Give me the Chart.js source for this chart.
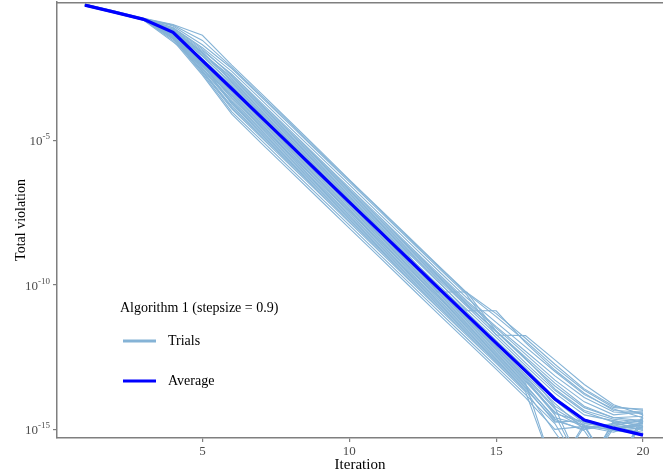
<!DOCTYPE html>
<html>
<head>
<meta charset="utf-8">
<script src="https://cdn.jsdelivr.net/npm/chart.js@4"></script>
<style>
  html, body { margin: 0; padding: 0; background: #fff; }
  #wrap { width: 663px; height: 474px; }
</style>
</head>
<body>
<div id="wrap"><canvas id="chartViolation"></canvas></div>
<script>
// iterations on the x axis
const iterations = [1, 2, 3, 4, 5, 6, 7, 8, 9, 10, 11, 12, 13, 14, 15, 16, 17, 18, 19, 20];

// y values stored as log10(total violation)
const averageLog = [-0.33, -0.57, -0.82, -1.27, -2.25, -3.22, -4.20, -5.18, -6.16, -7.14, -8.12, -9.10, -10.08, -11.05, -12.02, -12.98, -13.95, -14.68, -14.96, -15.20];

const trialsLog = [
  [-0.30, -0.53, -0.78, -1.00, -1.37, -2.40, -3.38, -4.37, -5.36, -6.36, -7.34, -8.32, -9.30, -10.27, -11.00, -11.85, -12.75, -13.60, -14.20, -14.35],
  [-0.31, -0.55, -0.80, -1.05, -1.70, -2.52, -3.50, -4.48, -5.46, -6.44, -7.42, -8.40, -9.38, -10.35, -11.74, -11.76, -12.60, -13.45, -14.15, -14.50],
  [-0.34, -0.58, -0.80, -1.10, -1.80, -2.62, -3.60, -4.58, -5.56, -6.54, -7.52, -8.50, -9.48, -10.45, -11.30, -12.15, -13.00, -13.80, -14.30, -14.60],
  [-0.32, -0.56, -0.83, -1.15, -1.90, -2.72, -3.70, -4.68, -5.66, -6.64, -7.62, -8.60, -9.58, -10.55, -11.45, -12.30, -13.15, -13.90, -14.40, -14.45],
  [-0.33, -0.57, -0.81, -1.20, -2.00, -2.82, -3.80, -4.78, -5.76, -6.74, -7.72, -8.70, -9.68, -10.65, -11.62, -12.58, -13.50, -14.25, -14.60, -14.70],
  [-0.35, -0.59, -0.84, -1.22, -2.05, -2.92, -3.90, -4.88, -5.86, -6.84, -7.82, -8.80, -9.78, -10.75, -11.72, -12.70, -13.65, -14.40, -14.75, -14.80],
  [-0.30, -0.55, -0.79, -1.25, -2.10, -3.02, -4.00, -4.98, -5.96, -6.94, -7.92, -8.90, -9.88, -10.85, -11.82, -12.80, -13.75, -14.50, -14.70, -14.90],
  [-0.36, -0.60, -0.85, -1.28, -2.18, -3.12, -4.10, -5.08, -6.06, -7.04, -8.02, -9.00, -9.98, -10.95, -11.92, -12.88, -13.90, -14.65, -14.95, -14.85],
  [-0.32, -0.56, -0.82, -1.30, -2.25, -3.22, -4.20, -5.18, -6.16, -7.14, -8.12, -9.10, -10.08, -11.05, -12.02, -13.00, -14.00, -14.80, -14.90, -15.00],
  [-0.34, -0.58, -0.83, -1.32, -2.32, -3.32, -4.30, -5.28, -6.26, -7.24, -8.22, -9.20, -10.18, -11.15, -12.12, -13.10, -14.10, -15.00, -14.80, -14.95],
  [-0.31, -0.55, -0.80, -1.35, -2.38, -3.42, -4.40, -5.38, -6.36, -7.34, -8.32, -9.30, -10.28, -11.25, -12.22, -13.20, -14.30, -14.90, -15.10, -14.75],
  [-0.33, -0.58, -0.84, -1.38, -2.45, -3.52, -4.50, -5.48, -6.46, -7.44, -8.42, -9.40, -10.38, -11.35, -12.32, -13.30, -14.50, -16.50, -14.70, -14.90],
  [-0.35, -0.59, -0.83, -1.40, -2.50, -3.62, -4.60, -5.58, -6.56, -7.54, -8.52, -9.50, -10.48, -11.45, -12.42, -13.40, -16.50, -14.80, -14.95, -15.10],
  [-0.30, -0.54, -0.81, -1.42, -2.55, -3.72, -4.70, -5.68, -6.66, -7.64, -8.62, -9.60, -10.58, -11.55, -12.52, -13.50, -14.60, -14.85, -16.50, -14.60],
  [-0.34, -0.57, -0.82, -1.45, -2.60, -3.82, -4.80, -5.78, -6.76, -7.74, -8.72, -9.70, -10.68, -11.65, -12.62, -13.60, -14.70, -15.00, -14.85, -14.70],
  [-0.32, -0.57, -0.84, -1.48, -2.65, -3.92, -4.90, -5.88, -6.86, -7.84, -8.82, -9.80, -10.78, -11.75, -12.72, -13.70, -16.50, -14.90, -15.00, -14.85],
  [-0.33, -0.56, -0.81, -1.50, -2.70, -4.02, -5.00, -5.98, -6.96, -7.94, -8.92, -9.90, -10.88, -11.85, -12.82, -13.80, -14.80, -16.50, -14.75, -15.05],
  [-0.31, -0.56, -0.83, -1.55, -2.75, -4.10, -5.10, -6.08, -7.06, -8.04, -9.02, -10.00, -10.98, -11.95, -12.92, -13.90, -15.00, -14.90, -16.50, -14.50],
  [-0.36, -0.60, -0.85, -1.60, -2.40, -3.55, -4.55, -5.52, -6.50, -7.48, -8.46, -9.44, -10.42, -11.40, -12.37, -13.35, -14.40, -14.95, -14.80, -14.65],
  [-0.30, -0.53, -0.79, -1.26, -2.35, -3.75, -4.75, -5.73, -6.71, -7.69, -8.67, -9.65, -10.63, -11.60, -12.57, -13.55, -14.75, -14.70, -15.05, -14.95],
  [-0.33, -0.57, -0.82, -1.23, -2.08, -3.07, -4.05, -5.03, -6.01, -6.99, -7.97, -8.95, -10.25, -10.25, -11.60, -12.55, -13.60, -14.35, -14.65, -14.75],
  [-0.34, -0.58, -0.83, -1.18, -1.95, -2.97, -3.95, -4.93, -5.91, -6.89, -7.87, -8.85, -9.83, -10.90, -10.90, -12.00, -12.95, -13.75, -14.35, -14.40],
  [-0.32, -0.55, -0.80, -1.12, -1.85, -2.77, -3.75, -4.73, -5.71, -6.69, -7.67, -8.65, -9.63, -10.60, -11.50, -12.40, -13.30, -14.05, -14.50, -14.40],
  [-0.35, -0.59, -0.84, -1.29, -2.20, -3.17, -4.15, -5.13, -6.11, -7.09, -8.07, -9.05, -10.03, -11.00, -11.97, -12.93, -14.20, -14.85, -15.05, -15.15],
  [-0.31, -0.56, -0.81, -1.36, -2.42, -3.47, -4.45, -5.43, -6.41, -7.39, -8.37, -9.35, -10.33, -11.30, -12.27, -13.25, -14.45, -14.75, -14.90, -15.20],
  [-0.33, -0.57, -0.82, -1.46, -2.62, -3.87, -4.85, -5.83, -6.81, -7.79, -8.77, -9.75, -10.73, -11.70, -12.67, -13.65, -15.10, -16.50, -14.95, -14.80],
  [-0.34, -0.58, -0.83, -1.41, -2.52, -3.67, -4.65, -5.63, -6.61, -7.59, -8.57, -9.55, -10.53, -11.50, -12.47, -13.45, -14.65, -15.05, -16.50, -14.70],
  [-0.32, -0.56, -0.81, -1.17, -1.98, -2.87, -3.85, -4.83, -5.81, -6.79, -7.77, -8.75, -9.73, -10.70, -11.60, -12.50, -13.40, -14.20, -14.60, -14.55],
  [-0.33, -0.57, -0.83, -1.33, -2.35, -3.37, -4.35, -5.33, -6.31, -7.29, -8.27, -9.25, -10.23, -11.20, -12.17, -13.15, -14.25, -16.50, -14.85, -15.00],
  [-0.30, -0.54, -0.79, -1.02, -1.55, -2.47, -3.45, -4.43, -5.41, -6.39, -7.37, -8.35, -9.33, -10.30, -11.10, -11.95, -12.85, -13.65, -14.25, -14.30]
];

// tick positions and labels (y labels are 10 with an exponent)
const xTicks = [5, 10, 15, 20];
const yTickValues = [1e-5, 1e-10, 1e-15];
const yTickExponents = ["-5", "-10", "-15"];

const legendTitle = "Algorithm 1 (stepsize = 0.9)";
const seriesNames = ["Trials", "Average"];

const trialColor = "#85b3d6";
const avgColor = "#0000ff";
const axisGrey = "#7f7f7f";
const tickGrey = "#4d4d4d";
const serif = "'Liberation Serif', 'Times New Roman', serif";

function toPoints(logs) {
  return logs.map((v, i) => ({ x: iterations[i], y: Math.pow(10, v) }));
}

const datasets = [
  {
    label: seriesNames[1],
    data: toPoints(averageLog),
    borderColor: avgColor,
    borderWidth: 3.2,
    pointRadius: 0,
    order: 0,
  },
];
trialsLog.forEach((t) => {
  datasets.push({
    label: seriesNames[0],
    data: toPoints(t),
    borderColor: trialColor,
    borderWidth: 1.1,
    pointRadius: 0,
    order: 1,
  });
});

// top frame line, y tick labels with superscript, legend inside the panel
const panelExtras = {
  id: "panelExtras",
  afterDraw(chart) {
    const ctx = chart.ctx;
    const a = chart.chartArea;
    const y = chart.scales.y;
    ctx.save();
    ctx.strokeStyle = axisGrey;
    ctx.lineWidth = 1.5;
    ctx.beginPath();
    ctx.moveTo(a.left, a.top + 0.75);
    ctx.lineTo(a.right, a.top + 0.75);
    ctx.stroke();

    // y tick labels
    ctx.fillStyle = tickGrey;
    ctx.textBaseline = "alphabetic";
    ctx.textAlign = "left";
    yTickValues.forEach((v, i) => {
      const py = y.getPixelForValue(v);
      ctx.font = "13px " + serif;
      const wb = ctx.measureText("10").width;
      ctx.font = "9px " + serif;
      const we = ctx.measureText(yTickExponents[i]).width;
      const x0 = a.left - 7 - wb - we;
      ctx.font = "13px " + serif;
      ctx.fillText("10", x0, py + 5);
      ctx.font = "9px " + serif;
      ctx.fillText(yTickExponents[i], x0 + wb, py - 1);
    });

    // legend
    ctx.fillStyle = "#000";
    ctx.textBaseline = "middle";
    ctx.font = "14px " + serif;
    ctx.fillText(legendTitle, 120, 308);
    const items = [
      { name: seriesNames[0], color: trialColor, y: 341 },
      { name: seriesNames[1], color: avgColor, y: 381 },
    ];
    items.forEach((it) => {
      ctx.strokeStyle = it.color;
      ctx.lineWidth = 3;
      ctx.beginPath();
      ctx.moveTo(123, it.y);
      ctx.lineTo(156, it.y);
      ctx.stroke();
      ctx.fillStyle = "#000";
      ctx.fillText(it.name, 168, it.y);
    });
    ctx.restore();
  },
};

const chart = new Chart(document.getElementById("chartViolation").getContext("2d"), {
  type: "line",
  data: { datasets: datasets },
  plugins: [panelExtras],
  options: {
    responsive: true,
    maintainAspectRatio: false,
    animation: false,
    layout: { padding: { top: 2, left: 0, right: 0, bottom: 0 } },
    plugins: { legend: { display: false }, tooltip: { enabled: false } },
    elements: { line: { tension: 0 } },
    scales: {
      x: {
        type: "linear",
        min: 0.05,
        max: 20.68,
        afterBuildTicks: (s) => { s.ticks = xTicks.map((v) => ({ value: v })); },
        afterFit: (s) => { s.height = 36; s.paddingLeft = 0; s.paddingRight = 0; },
        grid: { drawOnChartArea: false, tickLength: 4, color: axisGrey, lineWidth: 1.2 },
        border: { color: axisGrey, width: 1.5 },
        ticks: { font: { family: serif, size: 13 }, color: tickGrey, padding: 2, maxRotation: 0 },
        title: { display: true, text: "Iteration", font: { family: serif, size: 15 }, color: "#000", padding: { top: 0, bottom: 0 } },
      },
      y: {
        type: "logarithmic",
        min: Math.pow(10, -15.3),
        max: Math.pow(10, -0.22),
        afterBuildTicks: (s) => { s.ticks = yTickValues.map((v) => ({ value: v })); },
        afterFit: (s) => { s.width = 57; s.paddingTop = 0; s.paddingBottom = 0; },
        grid: { drawOnChartArea: false, tickLength: 4, color: axisGrey, lineWidth: 1.2 },
        border: { color: axisGrey, width: 1.5 },
        ticks: { font: { family: serif, size: 13 }, color: tickGrey, padding: 2, callback: () => "" },
        title: { display: true, text: "Total violation", font: { family: serif, size: 14 }, color: "#000", padding: { top: 13, bottom: 0 } },
      },
    },
  },
});
</script>
</body>
</html>
